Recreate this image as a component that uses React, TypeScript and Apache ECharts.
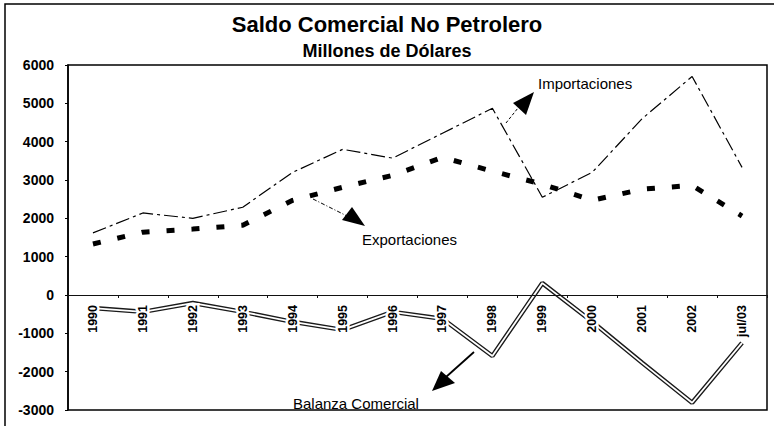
import React, { useEffect, useRef } from "react";
import * as echarts from "echarts";

const categories = ["1990", "1991", "1992", "1993", "1994", "1995", "1996", "1997", "1998", "1999", "2000", "2001", "2002", "jul/03"];
const importaciones = [1620, 2140, 2000, 2290, 3200, 3800, 3570, 4220, 4870, 2550, 3200, 4600, 5700, 3330];
const exportaciones = [1330, 1640, 1720, 1820, 2470, 2810, 3120, 3590, 3230, 2890, 2470, 2760, 2860, 2060];
const balanza = [-340, -440, -210, -440, -700, -910, -440, -620, -1590, 310, -700, -1770, -2810, -1250];

const titleText = "Saldo Comercial No Petrolero";
const subtitleText = "Millones de Dólares";
const labelImport = "Importaciones";
const labelExport = "Exportaciones";
const labelBalanza = "Balanza Comercial";

const Y_MIN = -3000;
const Y_MAX = 6000;

const FONT = "'Liberation Sans', Arial, Helvetica, sans-serif";

const GRID_TOP = 65;
const GRID_BOTTOM = 16;
const CHART_H = 426;

export default function App() {
  const ref = useRef<HTMLDivElement>(null);
  useEffect(() => {
    document.body.style.margin = "0";
    if (!ref.current) return;
    const chart = echarts.init(ref.current, null, { renderer: "svg" });
    const plotH = CHART_H - GRID_TOP - GRID_BOTTOM;
    const zeroOffset = (plotH * (0 - Y_MIN)) / (Y_MAX - Y_MIN);
    chart.setOption({
      animation: false,
      backgroundColor: "#fff",
      title: [
        {
          text: titleText,
          left: "center",
          top: 8,
          textStyle: { fontFamily: FONT, fontSize: 22, fontWeight: "bold", color: "#000" },
        },
        {
          text: subtitleText,
          left: "center",
          top: 37,
          textStyle: { fontFamily: FONT, fontSize: 18, fontWeight: "bold", color: "#000" },
        },
      ],
      grid: {
        left: 68,
        right: 7,
        top: GRID_TOP,
        bottom: GRID_BOTTOM,
        containLabel: false,
        outerBoundsMode: "none",
        show: true,
        borderColor: "#000",
        borderWidth: 1.5,
        backgroundColor: "transparent",
      },
      xAxis: {
        type: "category",
        data: categories,
        position: "bottom",
        offset: -zeroOffset,
        zlevel: 1,
        z: 50,
        axisLine: { onZero: false, lineStyle: { color: "#111", width: 1.2 } },
        axisTick: { show: true, length: 3, lineStyle: { color: "#111" } },
        axisLabel: {
          rotate: 90,
          margin: 10,
          fontFamily: FONT,
          fontSize: 12.5,
          fontWeight: "bold",
          color: "#000",
          textBorderColor: "#fff",
          textBorderWidth: 5,
          hideOverlap: false,
        },
        splitLine: { show: false },
      },
      yAxis: {
        type: "value",
        min: Y_MIN,
        max: Y_MAX,
        interval: 1000,
        axisLine: { show: true, lineStyle: { color: "#000", width: 1.5 } },
        axisTick: { show: true, length: 3, lineStyle: { color: "#000" } },
        axisLabel: {
          margin: 14,
          fontFamily: FONT,
          fontSize: 14,
          fontWeight: "bold",
          color: "#000",
          formatter: (v: number) => String(v),
        },
        splitLine: { show: false },
      },
      series: [
        {
          name: "Balanza outline",
          type: "line",
          data: balanza,
          symbol: "none",
          lineStyle: { color: "#1a1a1a", width: 4.5 },
          z: 2,
        },
        {
          name: "Balanza Comercial",
          type: "line",
          data: balanza,
          symbol: "none",
          lineStyle: { color: "#fff", width: 1.8 },
          z: 3,
        },
        {
          name: "Importaciones",
          type: "line",
          data: importaciones,
          symbol: "none",
          lineStyle: { color: "#000", width: 1.2, type: [14, 4, 3, 4] },
          z: 3,
        },
        {
          name: "Exportaciones",
          type: "line",
          data: exportaciones,
          symbol: "none",
          lineStyle: { color: "#000", width: 5, type: [8, 17], cap: "butt" },
          z: 3,
        },
      ],
      graphic: [
        {
          type: "rect",
          z: 0,
          silent: true,
          shape: { x: 5, y: 4, width: 820, height: 500 },
          style: { fill: "none", stroke: "#000", lineWidth: 1.5 },
        },
        {
          type: "text",
          z: 10,
          left: 538,
          top: 76,
          style: { text: labelImport, fontFamily: FONT, fontSize: 15, fill: "#000" },
        },
        {
          type: "line",
          z: 10,
          shape: { x1: 506, y1: 123, x2: 518, y2: 108 },
          style: { stroke: "#000", lineWidth: 1, lineDash: [3, 2] },
        },
        {
          type: "polygon",
          z: 10,
          shape: { points: [[513, 103], [534, 92], [526, 115]] },
          style: { fill: "#000" },
        },
        {
          type: "text",
          z: 10,
          left: 362,
          top: 232,
          style: { text: labelExport, fontFamily: FONT, fontSize: 15, fill: "#000" },
        },
        {
          type: "line",
          z: 10,
          shape: { x1: 313, y1: 199, x2: 347, y2: 216 },
          style: { stroke: "#000", lineWidth: 1, lineDash: [4, 2, 1, 2] },
        },
        {
          type: "polygon",
          z: 10,
          shape: { points: [[342, 220], [352, 207], [365, 226]] },
          style: { fill: "#000" },
        },
        {
          type: "text",
          z: 10,
          left: 293,
          top: 396,
          style: { text: labelBalanza, fontFamily: FONT, fontSize: 15, fill: "#000" },
        },
        {
          type: "line",
          z: 10,
          shape: { x1: 474, y1: 352, x2: 446, y2: 377 },
          style: { stroke: "#000", lineWidth: 1.8 },
        },
        {
          type: "polygon",
          z: 10,
          shape: { points: [[432, 391], [441, 371], [455, 383]] },
          style: { fill: "#000" },
        },
      ],
    });
    return () => chart.dispose();
  }, []);
  return <div ref={ref} style={{ width: 774, height: 426 }} />;
}
